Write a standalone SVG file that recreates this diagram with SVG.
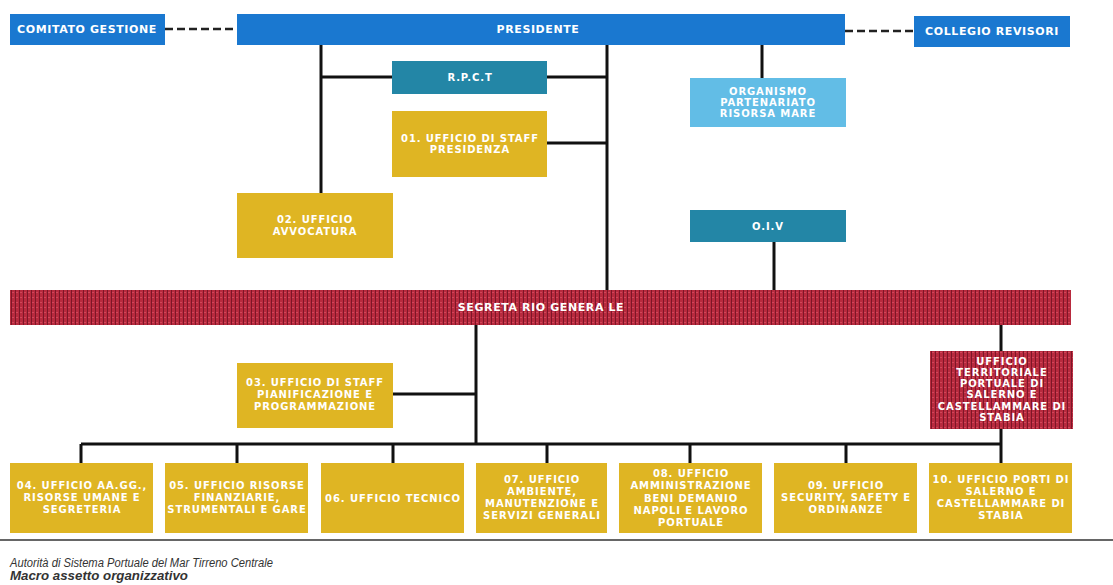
<svg xmlns="http://www.w3.org/2000/svg" width="1113" height="585" viewBox="0 0 1113 585">
<style>
.lbl{font-family:"DejaVu Sans",Verdana,sans-serif;font-weight:bold;font-size:10px;fill:#fff;text-anchor:middle;letter-spacing:0.9px}
.big{font-size:11px;letter-spacing:0.6px}
.blue{fill:#1a78d0}
.teal{fill:#2386a6}
.light{fill:#62bde6}
.yel{fill:#dfb523}
.red{fill:url(#weave)}
.ln{stroke:#111;stroke-width:3;fill:none}
.dash{stroke:#222;stroke-width:2.5;stroke-dasharray:8 4;fill:none}
.foot{font-family:"Liberation Sans",Arial,sans-serif;font-style:italic;font-size:12px;fill:#333}
</style>
<defs>
<pattern id="weave" width="4" height="5" patternUnits="userSpaceOnUse">
<rect width="4" height="5" fill="#b82a3e"/>
<rect x="3" width="1" height="5" fill="#7d1628"/>
<rect x="0" y="2" width="2" height="1" fill="#d0475a"/>
</pattern>
</defs>
<rect width="1113" height="585" fill="#fff"/>
<g id="connectors">
<path class="dash" d="M165 29H237"/>
<path class="dash" d="M845 31H914"/>
<path class="ln" d="M607 44V290"/>
<path class="ln" d="M321 44V193"/>
<path class="ln" d="M321 77H392"/>
<path class="ln" d="M547 77H607"/>
<path class="ln" d="M547 143H607"/>
<path class="ln" d="M762 44V78"/>
<path class="ln" d="M774 242V290"/>
<path class="ln" d="M476 325V444"/>
<path class="ln" d="M393 394H476"/>
<path class="ln" d="M81 444H1002"/>
<path class="ln" d="M81 444V463M237 444V463M393 444V463M547 444V463M690 444V463M846 444V463"/>
<path class="ln" d="M1001 325V351M1001 429V463"/>
</g>
<g id="comitato"><rect class="blue" x="10" y="14" width="155" height="31"/><text class="lbl big" x="87" y="33">COMITATO GESTIONE</text></g>
<g id="presidente"><rect class="blue" x="237" y="14" width="608" height="31"/><text class="lbl big" x="538" y="33">PRESIDENTE</text></g>
<g id="collegio"><rect class="blue" x="914" y="16" width="156" height="31"/><text class="lbl big" x="992" y="35">COLLEGIO REVISORI</text></g>
<g id="rpct"><rect class="teal" x="392" y="61" width="155" height="33"/><text class="lbl" x="470" y="81">R.P.C.T</text></g>
<g id="ufficio01"><rect class="yel" x="392" y="111" width="155" height="66"/><text class="lbl" x="470" y="142">01. UFFICIO DI STAFF</text><text class="lbl" x="470" y="153">PRESIDENZA</text></g>
<g id="organismo"><rect class="light" x="690" y="78" width="156" height="49"/><text class="lbl" x="768" y="95">ORGANISMO</text><text class="lbl" x="768" y="106">PARTENARIATO</text><text class="lbl" x="768" y="117">RISORSA MARE</text></g>
<g id="ufficio02"><rect class="yel" x="237" y="193" width="156" height="65"/><text class="lbl" x="315" y="223">02. UFFICIO</text><text class="lbl" x="315" y="235">AVVOCATURA</text></g>
<g id="oiv"><rect class="teal" x="690" y="210" width="156" height="32"/><text class="lbl" x="768" y="230">O.I.V</text></g>
<g id="segretario"><rect class="red" x="10" y="290" width="1061" height="35"/><text class="lbl big" x="541" y="311">SEGRETA RIO GENERA LE</text></g>
<g id="ufficio03"><rect class="yel" x="237" y="363" width="156" height="65"/><text class="lbl" x="315" y="386">03. UFFICIO DI STAFF</text><text class="lbl" x="315" y="398">PIANIFICAZIONE E</text><text class="lbl" x="315" y="410">PROGRAMMAZIONE</text></g>
<g id="territoriale"><rect class="red" x="930" y="351" width="143" height="78"/><text class="lbl" x="1002" y="365">UFFICIO</text><text class="lbl" x="1002" y="376">TERRITORIALE</text><text class="lbl" x="1002" y="387">PORTUALE DI</text><text class="lbl" x="1002" y="398">SALERNO E</text><text class="lbl" x="1002" y="410">CASTELLAMMARE DI</text><text class="lbl" x="1002" y="421">STABIA</text></g>
<g id="ufficio04"><rect class="yel" x="10" y="463" width="143" height="70"/><text class="lbl" x="82" y="489">04. UFFICIO AA.GG.,</text><text class="lbl" x="82" y="501">RISORSE UMANE E</text><text class="lbl" x="82" y="513">SEGRETERIA</text></g>
<g id="ufficio05"><rect class="yel" x="165" y="463" width="143" height="70"/><text class="lbl" x="237" y="489">05. UFFICIO RISORSE</text><text class="lbl" x="237" y="501">FINANZIARIE,</text><text class="lbl" x="237" y="513">STRUMENTALI E GARE</text></g>
<g id="ufficio06"><rect class="yel" x="321" y="463" width="143" height="70"/><text class="lbl" x="393" y="502">06. UFFICIO TECNICO</text></g>
<g id="ufficio07"><rect class="yel" x="476" y="463" width="131" height="70"/><text class="lbl" x="542" y="483">07. UFFICIO</text><text class="lbl" x="542" y="495">AMBIENTE,</text><text class="lbl" x="542" y="507">MANUTENZIONE E</text><text class="lbl" x="542" y="519">SERVIZI GENERALI</text></g>
<g id="ufficio08"><rect class="yel" x="619" y="463" width="143" height="70"/><text class="lbl" x="691" y="477">08. UFFICIO</text><text class="lbl" x="691" y="489">AMMINISTRAZIONE</text><text class="lbl" x="691" y="502">BENI DEMANIO</text><text class="lbl" x="691" y="514">NAPOLI E LAVORO</text><text class="lbl" x="691" y="526">PORTUALE</text></g>
<g id="ufficio09"><rect class="yel" x="774" y="463" width="143" height="70"/><text class="lbl" x="846" y="489">09. UFFICIO</text><text class="lbl" x="846" y="501">SECURITY, SAFETY E</text><text class="lbl" x="846" y="513">ORDINANZE</text></g>
<g id="ufficio10"><rect class="yel" x="929" y="463" width="143" height="70"/><text class="lbl" x="1001" y="483">10. UFFICIO PORTI DI</text><text class="lbl" x="1001" y="495">SALERNO E</text><text class="lbl" x="1001" y="507">CASTELLAMMARE DI</text><text class="lbl" x="1001" y="519">STABIA</text></g>
<g id="footer">
<path d="M0 540H1113" stroke="#333" stroke-width="1.5"/>
<text class="foot" x="10" y="567" textLength="263" lengthAdjust="spacingAndGlyphs">Autorità di Sistema Portuale del Mar Tirreno Centrale</text>
<text class="foot" x="10" y="580" font-weight="bold" textLength="178" lengthAdjust="spacingAndGlyphs">Macro assetto organizzativo</text>
</g>
</svg>
